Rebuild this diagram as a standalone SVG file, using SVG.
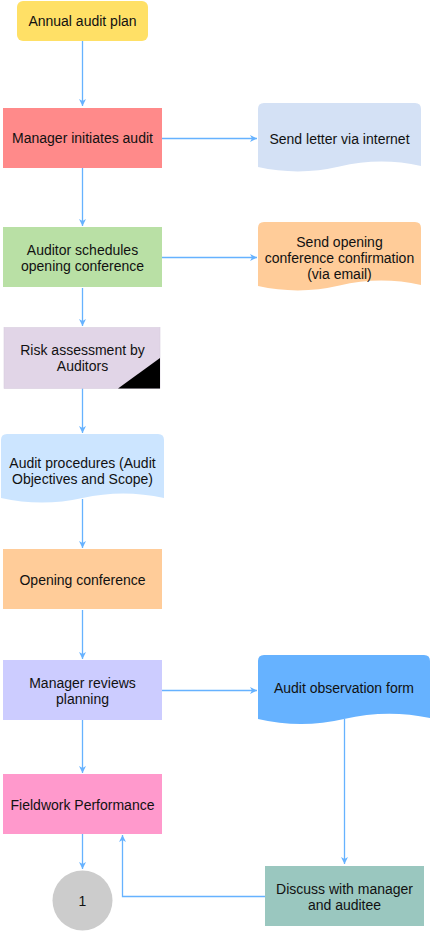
<svg xmlns="http://www.w3.org/2000/svg" width="432" height="932" viewBox="0 0 432 932">
<style>
text{font-family:"Liberation Sans",Arial,Helvetica,sans-serif;font-size:14px;fill:#111;text-anchor:middle}
.c{fill:none;stroke:#66B2FF;stroke-width:1.3}
</style>
<defs>
<marker id="a" markerWidth="8" markerHeight="8" refX="7" refY="4" orient="auto" markerUnits="userSpaceOnUse">
<path d="M0,0.5 L7,4 L0,7.5 L2,4 Z" fill="#66B2FF"/>
</marker>
</defs>
<rect width="432" height="932" fill="#fff"/>
<g id="connectors">
<path class="c" d="M82.5,41 V106" marker-end="url(#a)"/>
<path class="c" d="M162,138.5 H257" marker-end="url(#a)"/>
<path class="c" d="M82.5,168 V226" marker-end="url(#a)"/>
<path class="c" d="M162,257.5 H257" marker-end="url(#a)"/>
<path class="c" d="M82.5,288 V326" marker-end="url(#a)"/>
<path class="c" d="M82.5,388 V433" marker-end="url(#a)"/>
<path class="c" d="M82.5,499 V548" marker-end="url(#a)"/>
<path class="c" d="M82.5,610 V659" marker-end="url(#a)"/>
<path class="c" d="M162,690.5 H257" marker-end="url(#a)"/>
<path class="c" d="M82.5,720 V773" marker-end="url(#a)"/>
<path class="c" d="M344.5,719 V864" marker-end="url(#a)"/>
<path class="c" d="M82.5,834 V869" marker-end="url(#a)"/>
<path class="c" d="M265,896.5 H122.5 V835" marker-end="url(#a)"/>
</g>
<g id="annual-audit-plan">
<rect x="17" y="1" width="131" height="40" rx="6" fill="#FFE066"/>
<text x="82.5" y="26">Annual audit plan</text>
</g>
<g id="manager-initiates">
<rect x="3" y="108" width="159" height="60" fill="#FF8A8A"/>
<text x="82.5" y="143">Manager initiates audit</text>
</g>
<g id="send-letter">
<path d="M258,109 Q258,103 264,103 H415 Q421,103 421,109 V166 Q380,157 339.5,166.5 Q299,176 258,167 Z" fill="#D4E1F5"/>
<text x="339.5" y="144">Send letter via internet</text>
</g>
<g id="auditor-schedules">
<rect x="3" y="227" width="159" height="60" fill="#B9E0A5"/>
<text x="82.5" y="255">Auditor schedules</text>
<text x="82.5" y="271">opening conference</text>
</g>
<g id="send-opening">
<path d="M258,228 Q258,222 264,222 H415 Q421,222 421,228 V285 Q380,276 339.5,285.5 Q299,295 258,286 Z" fill="#FFCC99"/>
<text x="339.5" y="247">Send opening</text>
<text x="339.5" y="263">conference confirmation</text>
<text x="339.5" y="279">(via email)</text>
</g>
<g id="risk-assessment">
<rect x="4" y="327.5" width="156" height="61" fill="#E1D5E7" stroke="#D8CCDE" stroke-width="0.6"/>
<path d="M118,388.5 L160,388.5 L160,358 Z" fill="#000"/>
<text x="82.5" y="355">Risk assessment by</text>
<text x="82.5" y="371">Auditors</text>
</g>
<g id="audit-procedures">
<path d="M1,440 Q1,434 7,434 H158 Q164,434 164,440 V498 Q123,489 82.5,498 Q42,507 1,498 Z" fill="#CCE5FF"/>
<text x="82.5" y="468">Audit procedures (Audit</text>
<text x="82.5" y="484">Objectives and Scope)</text>
</g>
<g id="opening-conference">
<rect x="3" y="549" width="159" height="60" fill="#FFCC99"/>
<text x="82.5" y="585">Opening conference</text>
</g>
<g id="manager-reviews">
<rect x="3" y="660" width="159" height="60" fill="#CCCCFF"/>
<text x="82.5" y="688">Manager reviews</text>
<text x="82.5" y="704">planning</text>
</g>
<g id="audit-observation-form">
<path d="M258,661 Q258,655 264,655 H424 Q430,655 430,661 V718 Q387,709 344,719 Q301,729 258,719 Z" fill="#66B2FF"/>
<text x="344" y="693">Audit observation form</text>
</g>
<g id="fieldwork">
<rect x="3" y="774" width="159" height="60" fill="#FF99CC"/>
<text x="82.5" y="810">Fieldwork Performance</text>
</g>
<g id="connector-1">
<circle cx="82.5" cy="900.5" r="30" fill="#CCCCCC"/>
<text x="82.5" y="905.5">1</text>
</g>
<g id="discuss">
<rect x="265" y="866" width="159" height="60" fill="#9AC7BF"/>
<text x="344.5" y="894">Discuss with manager</text>
<text x="344.5" y="910">and auditee</text>
</g>
</svg>
